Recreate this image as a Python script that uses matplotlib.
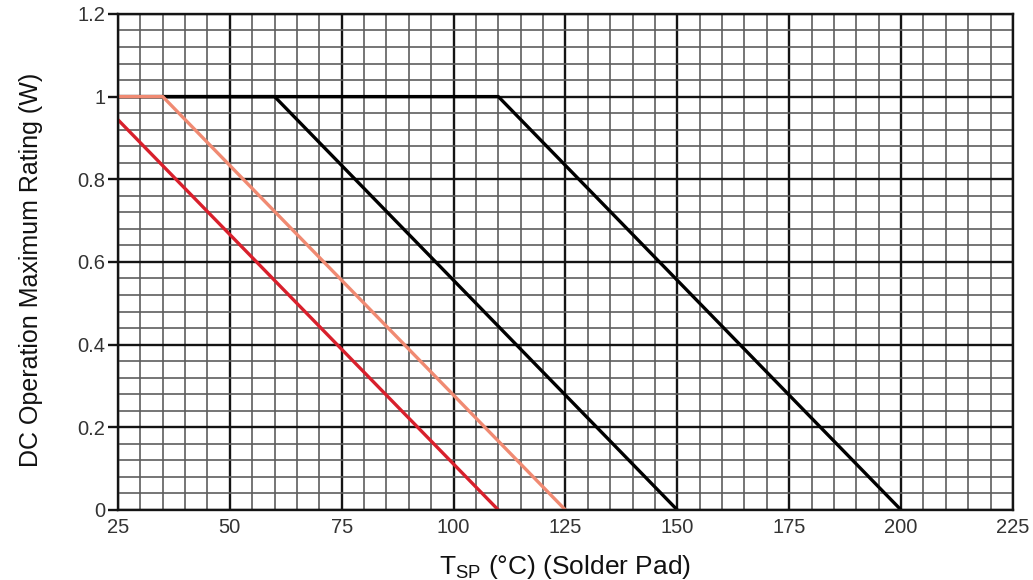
import matplotlib
matplotlib.use("Agg")
import matplotlib.pyplot as plt
from matplotlib.ticker import MultipleLocator, FuncFormatter

plt.rcParams['font.family'] = ['Liberation Sans', 'DejaVu Sans']
plt.rcParams['mathtext.fontset'] = 'custom'
plt.rcParams['mathtext.rm'] = 'Liberation Sans'

# derating curves: temperature (°C) vs max power (W)
red_t = [25, 110]
red_w = [0.944, 0.0]
orange_t = [25, 35, 125]
orange_w = [1.0, 1.0, 0.0]
black1_t = [25, 60, 150]
black1_w = [1.0, 1.0, 0.0]
black2_t = [25, 110, 200]
black2_w = [1.0, 1.0, 0.0]

x_ticks = [25, 50, 75, 100, 125, 150, 175, 200, 225]
y_ticks = [0, 0.2, 0.4, 0.6, 0.8, 1.0, 1.2]

fig = plt.figure(figsize=(10.33, 5.8), dpi=100)
ax = fig.add_axes([0.1142, 0.1207, 0.9806 - 0.1142, 0.976 - 0.1207])

# grid
ax.xaxis.set_minor_locator(MultipleLocator(5))
ax.yaxis.set_minor_locator(MultipleLocator(0.04))
ax.grid(which='minor', color='#5e5e5e', linewidth=1.2)
ax.grid(which='major', color='#141414', linewidth=1.7)
ax.set_axisbelow(True)

ax.plot(black2_t, black2_w, color='#000000', linewidth=2.4, solid_capstyle='butt')
ax.plot(black1_t, black1_w, color='#000000', linewidth=2.4, solid_capstyle='butt')
ax.plot(orange_t, orange_w, color='#f08a72', linewidth=2.4, solid_capstyle='butt')
ax.plot(red_t, red_w, color='#d8202c', linewidth=2.4, solid_capstyle='butt')

ax.set_xlim(25, 225)
ax.set_ylim(0, 1.2)
ax.set_xticks(x_ticks)
ax.set_yticks(y_ticks)
ax.yaxis.set_major_formatter(FuncFormatter(lambda v, _: f'{v:g}'))

ax.tick_params(axis='x', which='both', length=0, pad=6, labelsize=14.5)
ax.tick_params(axis='y', which='major', length=7, width=1.7, pad=2, labelsize=14.5)
ax.tick_params(axis='y', which='minor', length=0)
ax.tick_params(axis='both', labelcolor='#333333', color='#141414')

for s in ax.spines.values():
    s.set_color('#141414')
    s.set_linewidth(1.7)

ax.set_ylabel('DC Operation Maximum Rating (W)', fontsize=18, color='#111111')
ax.yaxis.set_label_coords(-0.084, 0.484)
ax.set_xlabel(r'T$_{\mathrm{SP}}$ (°C) (Solder Pad)', fontsize=19, color='#111111', labelpad=11)

fig.savefig('out.png', dpi=100)
